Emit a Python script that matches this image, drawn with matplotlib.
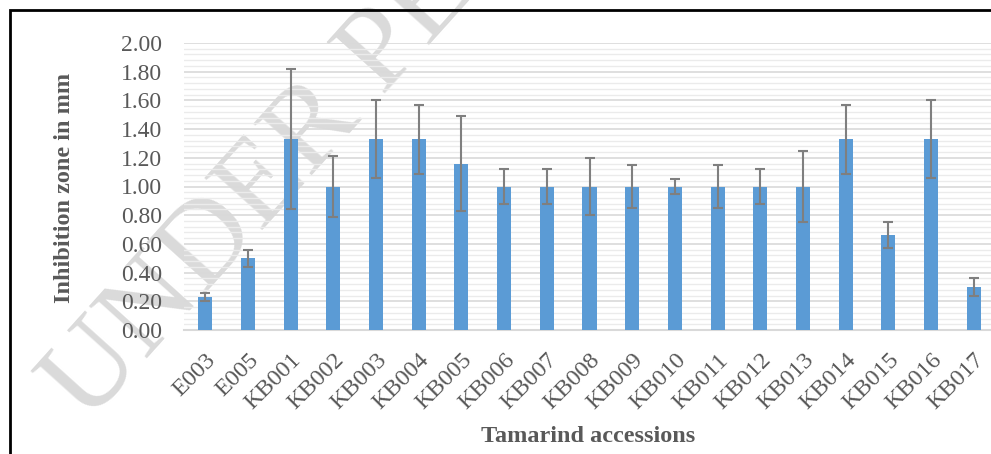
import matplotlib
matplotlib.use('Agg')
import matplotlib.pyplot as plt
from matplotlib.patches import Rectangle
import numpy as np

# data
accessions = ['E003', 'E005', 'KB001', 'KB002', 'KB003', 'KB004', 'KB005', 'KB006',
              'KB007', 'KB008', 'KB009', 'KB010', 'KB011', 'KB012', 'KB013', 'KB014',
              'KB015', 'KB016', 'KB017']
zone_mm = [0.23, 0.50, 1.33, 1.00, 1.33, 1.33, 1.16, 1.00, 1.00, 1.00,
           1.00, 1.00, 1.00, 1.00, 1.00, 1.33, 0.66, 1.33, 0.30]
zone_err = [0.03, 0.06, 0.49, 0.21, 0.27, 0.24, 0.33, 0.12, 0.12, 0.20,
            0.15, 0.05, 0.15, 0.12, 0.25, 0.24, 0.09, 0.27, 0.06]
y_ticks = [0.0, 0.2, 0.4, 0.6, 0.8, 1.0, 1.2, 1.4, 1.6, 1.8, 2.0]

W, H = 991, 454
fig = plt.figure(figsize=(W / 100, H / 100), dpi=100)
serif = 'Liberation Serif'
grey = '#595959'

# outer frame (runs off right and bottom edge)
fig.patches.append(Rectangle((10 / W, -0.1), 1.2, 1 - 10 / H + 0.1,
                             transform=fig.transFigure, fill=False,
                             edgecolor='black', linewidth=2))

# axes placement in pixels
x0, x1, ytop, ybot = 184, 995, 43, 330
ax = fig.add_axes([x0 / W, (H - ybot) / H, (x1 - x0) / W, (ybot - ytop) / H])
ax.set_facecolor('none')

x = np.arange(len(accessions))
ax.bar(x, zone_mm, width=0.33, color='#5b9bd5', zorder=3)
ax.errorbar(x, zone_mm, yerr=zone_err, fmt='none', ecolor='#7f7f7f',
            elinewidth=1.5, capsize=3.8, capthick=1.5, zorder=4)

ax.set_xlim(-0.5, len(accessions) - 0.5)
ax.set_ylim(0, 2.0)
ax.set_yticks(y_ticks)
ax.set_yticklabels(['%.2f' % v for v in y_ticks])
ax.set_yticks(np.arange(0, 2.001, 0.04), minor=True)
ax.grid(axis='y', which='minor', color='#ebebeb', linewidth=1.0, zorder=0)
ax.grid(axis='y', which='major', color='#d9d9d9', linewidth=1.2, zorder=0)
ax.set_axisbelow(True)

for s in ['top', 'right', 'left']:
    ax.spines[s].set_visible(False)
ax.spines['bottom'].set_color('#d9d9d9')
ax.spines['bottom'].set_linewidth(1.5)

ax.set_xticks(x)
ax.set_xticklabels(accessions, rotation=45, ha='right', va='top',
                   rotation_mode='anchor', fontfamily=serif, fontsize=17.5,
                   color=grey)
ax.tick_params(axis='x', length=0, pad=14)
ax.tick_params(axis='y', which='both', length=0, pad=16, labelsize=17,
               labelcolor=grey)
for t in ax.get_yticklabels():
    t.set_fontfamily(serif)

fig.text(65 / W, 1 - 188 / H, 'Inhibition zone in mm', rotation=90,
         ha='center', va='center', fontfamily=serif, fontweight='bold',
         fontsize=17.5, color=grey)
fig.text(588 / W, 1 - 436 / H, 'Tamarind accessions', ha='center',
         va='center', fontfamily=serif, fontweight='bold', fontsize=17.5,
         color=grey)

# watermark, behind the axes content
fig.text(88 / W, 1 - 425 / H, 'UNDER PEER REVIEW', rotation=48,
         rotation_mode='anchor', ha='left', va='baseline', fontfamily=serif,
         fontsize=86, color='#dadada', zorder=-1)

fig.savefig('out.png', dpi=100)
